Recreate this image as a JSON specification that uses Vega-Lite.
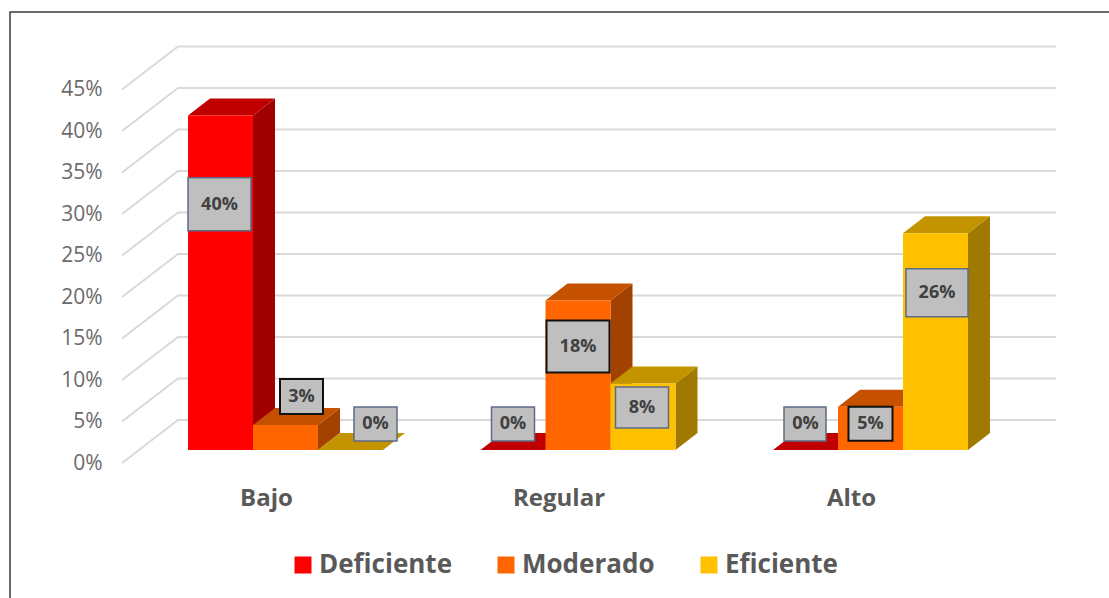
{
"$schema":"https://vega.github.io/schema/vega-lite/v6.json",
"width":1110,"height":600,"autosize":{"type":"none"},
"padding":{"left":10,"top":12,"right":0,"bottom":0},
"background":"#ffffff",
"config":{"view":{"stroke":"#3a3a3a","strokeWidth":1.5},"font":"Open Sans"},
"data":{"values":[
{"nivel":"Bajo","serie":"Deficiente","valor":0.403},
{"nivel":"Bajo","serie":"Moderado","valor":0.03},
{"nivel":"Bajo","serie":"Eficiente","valor":0},
{"nivel":"Regular","serie":"Deficiente","valor":0},
{"nivel":"Regular","serie":"Moderado","valor":0.18},
{"nivel":"Regular","serie":"Eficiente","valor":0.08},
{"nivel":"Alto","serie":"Deficiente","valor":0},
{"nivel":"Alto","serie":"Moderado","valor":0.052},
{"nivel":"Alto","serie":"Eficiente","valor":0.261}
]},
"encoding":{
"x":{"field":"nivel","type":"nominal","sort":["Bajo","Regular","Alto"],
 "scale":{"domain":["Bajo","Regular","Alto"],"range":[178,958],"paddingInner":0.33333,"paddingOuter":0},
 "axis":{"title":null,"orient":"bottom","offset":-126,"domain":false,"ticks":false,"grid":false,"labelAngle":0,"labelOffset":-19,"labelFontSize":24,"labelFontWeight":"bold","labelColor":"#595959","labelPadding":0,"labelFont":"Open Sans"}},
"xOffset":{"field":"serie","type":"nominal","sort":["Deficiente","Moderado","Eficiente"],"scale":{"domain":["Deficiente","Moderado","Eficiente"]}},
"y":{"field":"valor","type":"quantitative",
 "scale":{"domain":[0,0.45],"range":[438,64.5],"nice":false,"zero":true},
 "axis":{"title":null,"orient":"left","offset":-92,"domain":false,"ticks":false,"grid":false,"values":[0,0.05,0.1,0.15,0.2,0.25,0.3,0.35,0.4,0.45],"format":".0%","labelOffset":13,"labelFontSize":21,"labelColor":"#6b6b6b","labelPadding":0,"labelFont":"Open Sans"}}
},
"layer":[
{"data":{"values":[{"valor":0},{"valor":0.05},{"valor":0.1},{"valor":0.15},{"valor":0.2},{"valor":0.25},{"valor":0.3},{"valor":0.35},{"valor":0.4},{"valor":0.45}]},
 "mark":{"type":"point","filled":false,"fill":null,"stroke":"#d9d9d9","strokeWidth":2,"opacity":1,"size":4,"shape":"M-66 13 L-10 -30 L868 -30"},
 "encoding":{"x":{"datum":"Bajo","type":"nominal","bandPosition":0},"xOffset":null,"y":{"field":"valor","type":"quantitative"}}},
{"mark":{"type":"point","filled":true,"opacity":1,"size":4,"strokeWidth":0},
 "encoding":{
  "fill":{"field":"serie","type":"nominal","legend":null,"scale":{"domain":["Deficiente","Moderado","Eficiente"],"range":["#a00000","#a34200","#a07a00"]}},
  "shape":{"field":"valor","type":"nominal","legend":null,"scale":{"domain":[0,0.03,0.052,0.08,0.18,0.261,0.403],"range":[
   "M32.5 0 L54.5 -17 L54.5 -17 L32.5 0 Z",
   "M32.5 0 L54.5 -17 L54.5 7.9 L32.5 24.9 Z",
   "M32.5 0 L54.5 -17 L54.5 26.2 L32.5 43.2 Z",
   "M32.5 0 L54.5 -17 L54.5 49.4 L32.5 66.4 Z",
   "M32.5 0 L54.5 -17 L54.5 132.4 L32.5 149.4 Z",
   "M32.5 0 L54.5 -17 L54.5 199.6 L32.5 216.6 Z",
   "M32.5 0 L54.5 -17 L54.5 317.5 L32.5 334.5 Z"]}}}},
{"mark":{"type":"point","filled":true,"opacity":1,"size":4,"strokeWidth":0,"shape":"M-32.5 0 L-10.5 -17 L54.5 -17 L32.5 0 Z"},
 "encoding":{
  "fill":{"field":"serie","type":"nominal","legend":null,"scale":{"domain":["Deficiente","Moderado","Eficiente"],"range":["#c00000","#c55000","#c49300"]}}}},
{"mark":{"type":"bar","strokeWidth":0},
 "encoding":{"color":{"field":"serie","type":"nominal","sort":["Deficiente","Moderado","Eficiente"],
  "scale":{"domain":["Deficiente","Moderado","Eficiente"],"range":["#ff0000","#ff6600","#ffc000"]},
  "legend":{"title":null,"orient":"none","legendX":280,"legendY":540,"direction":"horizontal","symbolType":"square","symbolSize":289,"symbolStrokeWidth":0,"symbolOpacity":1,"labelFontSize":26,"labelFontWeight":"bold","labelColor":"#595959","labelFont":"Open Sans","columnPadding":41,"labelOffset":3,"symbolOffset":0}}}},
{"transform":[{"filter":"datum.nivel==='Bajo'&&datum.serie==='Deficiente'"}],"layer":[
 {"mark":{"type":"point","filled":true,"fill":"#bfbfbf","stroke":"#5d6b85","strokeWidth":1.5,"opacity":1,"size":4,"shape":"M-32.5 62.3 L30.5 62.3 L30.5 115.3 L-32.5 115.3 Z"}},
 {"mark":{"type":"text","dx":-1,"dy":89,"fontSize":18,"fontWeight":"bold","fill":"#404040","font":"Open Sans"},"encoding":{"text":{"field":"valor","type":"quantitative","format":".0%"}}}]},
{"transform":[{"filter":"datum.nivel==='Bajo'&&datum.serie==='Moderado'"}],"layer":[
 {"mark":{"type":"point","filled":true,"fill":"#bfbfbf","stroke":"#111111","strokeWidth":2,"opacity":1,"size":4,"shape":"M-5.5 -46 L37.5 -46 L37.5 -11 L-5.5 -11 Z"}},
 {"mark":{"type":"text","dx":16,"dy":-28.5,"fontSize":18,"fontWeight":"bold","fill":"#404040","font":"Open Sans"},"encoding":{"text":{"field":"valor","type":"quantitative","format":".0%"}}}]},
{"transform":[{"filter":"datum.nivel==='Bajo'&&datum.serie==='Eficiente'"}],"layer":[
 {"mark":{"type":"point","filled":true,"fill":"#bfbfbf","stroke":"#5d6b85","strokeWidth":1.5,"opacity":1,"size":4,"shape":"M3.5 -43 L46.5 -43 L46.5 -9 L3.5 -9 Z"}},
 {"mark":{"type":"text","dx":25,"dy":-26,"fontSize":18,"fontWeight":"bold","fill":"#404040","font":"Open Sans"},"encoding":{"text":{"field":"valor","type":"quantitative","format":".0%"}}}]},
{"transform":[{"filter":"datum.nivel==='Regular'&&datum.serie==='Deficiente'"}],"layer":[
 {"mark":{"type":"point","filled":true,"fill":"#bfbfbf","stroke":"#5d6b85","strokeWidth":1.5,"opacity":1,"size":4,"shape":"M-21.5 -43 L21.5 -43 L21.5 -9 L-21.5 -9 Z"}},
 {"mark":{"type":"text","dy":-26,"fontSize":18,"fontWeight":"bold","fill":"#404040","font":"Open Sans"},"encoding":{"text":{"field":"valor","type":"quantitative","format":".0%"}}}]},
{"transform":[{"filter":"datum.nivel==='Regular'&&datum.serie==='Moderado'"}],"layer":[
 {"mark":{"type":"point","filled":true,"fill":"#bfbfbf","stroke":"#111111","strokeWidth":2,"opacity":1,"size":4,"shape":"M-31.5 20 L31.5 20 L31.5 72 L-31.5 72 Z"}},
 {"mark":{"type":"text","dy":46,"fontSize":18,"fontWeight":"bold","fill":"#404040","font":"Open Sans"},"encoding":{"text":{"field":"valor","type":"quantitative","format":".0%"}}}]},
{"transform":[{"filter":"datum.nivel==='Regular'&&datum.serie==='Eficiente'"}],"layer":[
 {"mark":{"type":"point","filled":true,"fill":"#bfbfbf","stroke":"#5d6b85","strokeWidth":1.5,"opacity":1,"size":4,"shape":"M-27.5 3.5 L25.5 3.5 L25.5 44.5 L-27.5 44.5 Z"}},
 {"mark":{"type":"text","dx":-1,"dy":24,"fontSize":18,"fontWeight":"bold","fill":"#404040","font":"Open Sans"},"encoding":{"text":{"field":"valor","type":"quantitative","format":".0%"}}}]},
{"transform":[{"filter":"datum.nivel==='Alto'&&datum.serie==='Deficiente'"}],"layer":[
 {"mark":{"type":"point","filled":true,"fill":"#bfbfbf","stroke":"#5d6b85","strokeWidth":1.5,"opacity":1,"size":4,"shape":"M-21.5 -43 L20.5 -43 L20.5 -9 L-21.5 -9 Z"}},
 {"mark":{"type":"text","dy":-26,"fontSize":18,"fontWeight":"bold","fill":"#404040","font":"Open Sans"},"encoding":{"text":{"field":"valor","type":"quantitative","format":".0%"}}}]},
{"transform":[{"filter":"datum.nivel==='Alto'&&datum.serie==='Moderado'"}],"layer":[
 {"mark":{"type":"point","filled":true,"fill":"#bfbfbf","stroke":"#111111","strokeWidth":2,"opacity":1,"size":4,"shape":"M-22 0 L22 0 L22 34 L-22 34 Z"}},
 {"mark":{"type":"text","dy":17,"fontSize":18,"fontWeight":"bold","fill":"#404040","font":"Open Sans"},"encoding":{"text":{"field":"valor","type":"quantitative","format":".0%"}}}]},
{"transform":[{"filter":"datum.nivel==='Alto'&&datum.serie==='Eficiente'"}],"layer":[
 {"mark":{"type":"point","filled":true,"fill":"#bfbfbf","stroke":"#5d6b85","strokeWidth":1.5,"opacity":1,"size":4,"shape":"M-29.5 35.5 L32.5 35.5 L32.5 83.5 L-29.5 83.5 Z"}},
 {"mark":{"type":"text","dx":1.5,"dy":59.5,"fontSize":18,"fontWeight":"bold","fill":"#404040","font":"Open Sans"},"encoding":{"text":{"field":"valor","type":"quantitative","format":".0%"}}}]}
],
"resolve":{"scale":{"fill":"independent"}}
}
